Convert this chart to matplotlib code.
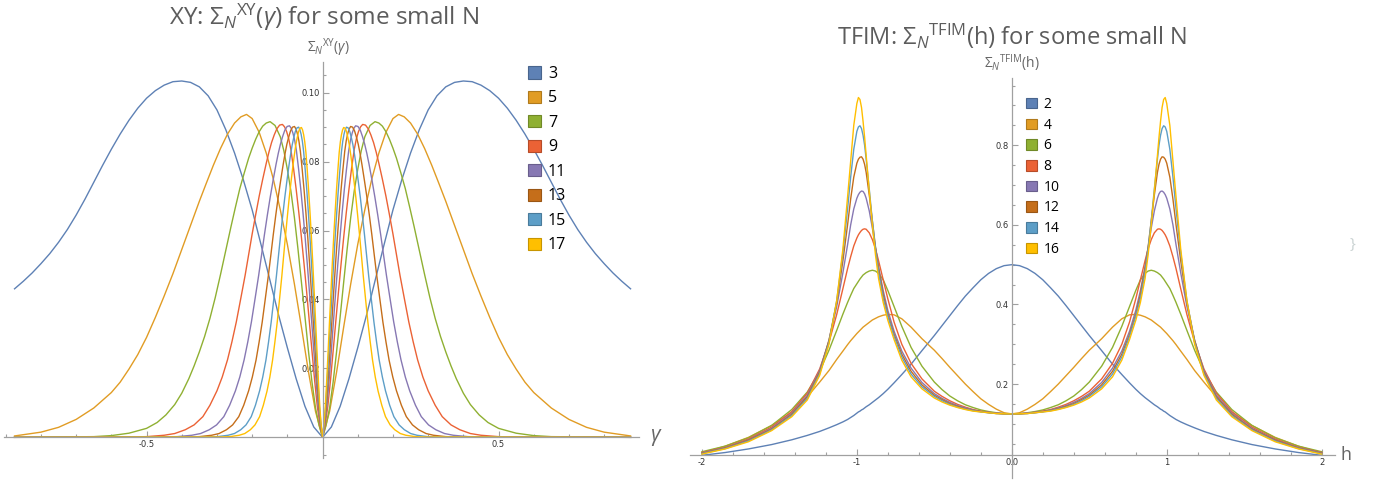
import numpy as np
import matplotlib
matplotlib.use('Agg')
import matplotlib.pyplot as plt
from matplotlib.patches import Patch
from matplotlib.ticker import MultipleLocator
from matplotlib.colors import to_rgb

plt.rcParams['font.family'] = ['Open Sans', 'DejaVu Sans']
plt.rcParams['mathtext.fontset'] = 'custom'
plt.rcParams['mathtext.rm'] = 'Open Sans'
plt.rcParams['mathtext.it'] = 'Open Sans:italic'
plt.rcParams['axes.unicode_minus'] = False

# Mathematica default palette (ColorData 97)
COLORS = ['#5e81b5', '#e19c24', '#8fb032', '#eb6235', '#8778b3', '#c56e1a', '#5d9ec7', '#ffbf00']

# ---------- XY panel: values for gamma >= 0 (curves are symmetric) ----------
XY_N = [3, 5, 7, 9, 11, 13, 15, 17]

XY_G3 = [0, 0.025, 0.05, 0.075, 0.1, 0.125, 0.15, 0.175, 0.2, 0.225, 0.25, 0.275, 0.3, 0.325, 0.35, 0.375,
         0.4, 0.425, 0.45, 0.475, 0.5, 0.525, 0.55, 0.575, 0.6, 0.625, 0.65, 0.675, 0.7, 0.725, 0.75,
         0.775, 0.8, 0.825, 0.85, 0.875]
XY_S3 = [0, 0.003, 0.009, 0.017, 0.026, 0.0355, 0.0458, 0.056, 0.066, 0.0747, 0.0825, 0.0893, 0.095,
         0.0991, 0.1017, 0.103, 0.1034, 0.1032, 0.1022, 0.1006, 0.0984, 0.0955, 0.092, 0.088, 0.0836,
         0.0789, 0.074, 0.0691, 0.0645, 0.0603, 0.0566, 0.0533, 0.0504, 0.0477, 0.0453, 0.0431]

XY_G5 = [0, 0.02, 0.04, 0.06, 0.08, 0.1, 0.12, 0.14, 0.16, 0.18, 0.2, 0.216, 0.232, 0.25, 0.27, 0.29,
         0.31, 0.33, 0.35, 0.375, 0.4, 0.425, 0.45, 0.475, 0.5, 0.525, 0.55, 0.575, 0.6, 0.65, 0.7, 0.75,
         0.8, 0.875]
XY_S5 = [0, 0.0075, 0.019, 0.032, 0.0445, 0.056, 0.066, 0.075, 0.0825, 0.0885, 0.0925, 0.0937, 0.093,
         0.0912, 0.088, 0.0838, 0.079, 0.0738, 0.0685, 0.0615, 0.0545, 0.0475, 0.041, 0.0348, 0.029,
         0.024, 0.0198, 0.016, 0.013, 0.0085, 0.0052, 0.0029, 0.0015, 0.0004]

XY_G7 = [0, 0.01, 0.02, 0.03, 0.04, 0.05, 0.06, 0.07, 0.08, 0.09, 0.1, 0.11, 0.12, 0.135, 0.149, 0.16,
         0.17, 0.18, 0.19, 0.2, 0.21, 0.2225, 0.235, 0.2475, 0.26, 0.275, 0.29, 0.305, 0.32, 0.335, 0.35,
         0.365, 0.38, 0.4, 0.42, 0.445, 0.47, 0.5, 0.55, 0.6, 0.65, 0.875]
XY_S7 = [0, 0.0035, 0.0085, 0.016, 0.025, 0.035, 0.045, 0.0548, 0.0638, 0.0715, 0.0778, 0.0832, 0.0872,
         0.0905, 0.0916, 0.0912, 0.0903, 0.0887, 0.0865, 0.0839, 0.081, 0.0767, 0.0722, 0.0668, 0.0612,
         0.0542, 0.0472, 0.0405, 0.0345, 0.0293, 0.0248, 0.0207, 0.017, 0.0128, 0.0095, 0.0065, 0.0043,
         0.0026, 0.0012, 0.0005, 0.0002, 0]

XY_G9 = [0, 0.0075, 0.015, 0.0225, 0.03, 0.0375, 0.045, 0.0525, 0.06, 0.0675, 0.075, 0.0825, 0.09,
         0.096, 0.102, 0.108, 0.114, 0.122, 0.13, 0.1375, 0.145, 0.1525, 0.16, 0.17, 0.18, 0.19, 0.2,
         0.21, 0.22, 0.2325, 0.245, 0.2575, 0.27, 0.285, 0.3, 0.32, 0.34, 0.365, 0.39, 0.42, 0.45, 0.5,
         0.55, 0.875]
XY_S9 = [0, 0.0038, 0.009, 0.0165, 0.025, 0.0335, 0.042, 0.0502, 0.058, 0.0653, 0.072, 0.0781, 0.0835,
         0.0866, 0.0887, 0.0901, 0.0908, 0.0906, 0.0895, 0.0877, 0.0855, 0.0827, 0.0795, 0.0749, 0.07,
         0.0646, 0.059, 0.053, 0.047, 0.0402, 0.0335, 0.0277, 0.0225, 0.0175, 0.0135, 0.0093, 0.006,
         0.0036, 0.0022, 0.0011, 0.0006, 0.0002, 0.0001, 0]

XY_G11 = [0, 0.0062, 0.0124, 0.0186, 0.0248, 0.0309, 0.0371, 0.0433, 0.0495, 0.0557, 0.0619, 0.0681,
          0.0743, 0.0792, 0.0842, 0.0891, 0.094, 0.1007, 0.1073, 0.1134, 0.1196, 0.1258, 0.132, 0.1403,
          0.1485, 0.1568, 0.165, 0.1733, 0.1815, 0.1918, 0.2021, 0.2124, 0.2228, 0.2351, 0.2475, 0.264,
          0.2805, 0.3011, 0.3218, 0.3465, 0.3713, 0.4125, 0.4538, 0.875]
XY_S11 = [0, 0.0038, 0.009, 0.0165, 0.025, 0.0335, 0.042, 0.0502, 0.058, 0.0653, 0.072, 0.0779, 0.0832,
          0.0862, 0.0883, 0.0897, 0.0904, 0.0902, 0.0891, 0.0873, 0.0851, 0.0824, 0.0793, 0.0747, 0.0698,
          0.0645, 0.0589, 0.0529, 0.047, 0.0402, 0.0335, 0.0277, 0.0225, 0.0175, 0.0135, 0.0093, 0.006,
          0.0036, 0.0022, 0.0011, 0.0006, 0.0002, 0.0001, 0]

XY_G13 = [0, 0.0053, 0.0105, 0.0158, 0.021, 0.0263, 0.0315, 0.0368, 0.042, 0.0473, 0.0525, 0.0578,
          0.063, 0.0672, 0.0714, 0.0756, 0.0798, 0.0854, 0.091, 0.0963, 0.1015, 0.1068, 0.112, 0.119,
          0.126, 0.133, 0.14, 0.147, 0.154, 0.1628, 0.1715, 0.1803, 0.189, 0.1995, 0.21, 0.224, 0.238,
          0.2555, 0.273, 0.294, 0.315, 0.35, 0.385, 0.875]
XY_S13 = [0, 0.0038, 0.009, 0.0165, 0.025, 0.0335, 0.042, 0.0502, 0.058, 0.0652, 0.0718, 0.0777, 0.083,
          0.086, 0.0881, 0.0895, 0.0902, 0.09, 0.0889, 0.0871, 0.085, 0.0822, 0.0791, 0.0745, 0.0697,
          0.0644, 0.0588, 0.0528, 0.0469, 0.0401, 0.0334, 0.0276, 0.0224, 0.0175, 0.0135, 0.0093, 0.006,
          0.0036, 0.0022, 0.0011, 0.0006, 0.0002, 0.0001, 0]

XY_G15 = [0, 0.0045, 0.0089, 0.0134, 0.0179, 0.0224, 0.0268, 0.0313, 0.0358, 0.0402, 0.0447, 0.0492,
          0.0536, 0.0572, 0.0608, 0.0644, 0.0679, 0.0727, 0.0775, 0.082, 0.0864, 0.0909, 0.0954, 0.1013,
          0.1073, 0.1132, 0.1192, 0.1252, 0.1311, 0.1386, 0.146, 0.1535, 0.1609, 0.1699, 0.1788, 0.1907,
          0.2026, 0.2175, 0.2324, 0.2503, 0.2682, 0.298, 0.3278, 0.875]
XY_S15 = [0, 0.0038, 0.009, 0.0165, 0.025, 0.0335, 0.042, 0.0502, 0.058, 0.0651, 0.0717, 0.0775, 0.0828,
          0.0858, 0.0879, 0.0893, 0.09, 0.0898, 0.0887, 0.0869, 0.0848, 0.082, 0.0789, 0.0744, 0.0696,
          0.0643, 0.0587, 0.0527, 0.0468, 0.04, 0.0334, 0.0276, 0.0224, 0.0175, 0.0135, 0.0093, 0.006,
          0.0036, 0.0022, 0.0011, 0.0006, 0.0002, 0.0001, 0]

XY_G17 = [0, 0.004, 0.0079, 0.0118, 0.0158, 0.0197, 0.0237, 0.0276, 0.0316, 0.0355, 0.0395, 0.0434,
          0.0473, 0.0505, 0.0537, 0.0568, 0.06, 0.0642, 0.0684, 0.0723, 0.0763, 0.0802, 0.0842, 0.0894,
          0.0947, 0.0999, 0.1052, 0.1105, 0.1157, 0.1223, 0.1289, 0.1355, 0.142, 0.1499, 0.1578, 0.1683,
          0.1788, 0.192, 0.2051, 0.2209, 0.2367, 0.263, 0.2893, 0.875]
XY_S17 = [0, 0.0038, 0.009, 0.0165, 0.025, 0.0335, 0.042, 0.0502, 0.058, 0.065, 0.0716, 0.0774, 0.0827,
          0.0857, 0.0878, 0.0892, 0.0899, 0.0897, 0.0886, 0.0868, 0.0847, 0.0819, 0.0788, 0.0743, 0.0695,
          0.0642, 0.0586, 0.0527, 0.0468, 0.04, 0.0333, 0.0276, 0.0224, 0.0174, 0.0134, 0.0093, 0.006,
          0.0036, 0.0022, 0.0011, 0.0006, 0.0002, 0.0001, 0]

XY_X = [XY_G3, XY_G5, XY_G7, XY_G9, XY_G11, XY_G13, XY_G15, XY_G17]
XY_Y = [XY_S3, XY_S5, XY_S7, XY_S9, XY_S11, XY_S13, XY_S15, XY_S17]

XY_XTICKS = [-0.5, 0.5]
XY_XTICKLABELS = ['-0.5', '0.5']
XY_YTICKS = [0.02, 0.04, 0.06, 0.08, 0.10]
XY_YTICKLABELS = ['0.02', '0.04', '0.06', '0.08', '0.10']

# ---------- TFIM panel: values for h <= 0 (curves are symmetric) ----------
TF_N = [2, 4, 6, 8, 10, 12, 14, 16]

TF_H = [-2.0, -1.85, -1.7, -1.55, -1.42, -1.32, -1.24, -1.18, -1.13, -1.09, -1.06, -1.04, -1.02, -1.0,
        -0.99, -0.98, -0.97, -0.96, -0.95, -0.94, -0.92, -0.9, -0.88, -0.86, -0.83, -0.8, -0.76, -0.71,
        -0.65, -0.58, -0.5, -0.45, -0.4, -0.35, -0.3, -0.25, -0.2, -0.15, -0.1, -0.05, 0.0]

TF_S2 = [0.021, 0.028, 0.037, 0.048, 0.06, 0.071, 0.081, 0.09, 0.098, 0.105, 0.111, 0.116, 0.121, 0.127,
         0.13, 0.132, 0.135, 0.137, 0.14, 0.143, 0.148, 0.154, 0.16, 0.166, 0.176, 0.187, 0.203, 0.224,
         0.25, 0.284, 0.322, 0.347, 0.372, 0.397, 0.421, 0.442, 0.462, 0.478, 0.49, 0.4975, 0.5]
TF_S4 = [0.027, 0.044, 0.066, 0.096, 0.129, 0.168, 0.205, 0.234, 0.262, 0.283, 0.299, 0.309, 0.318, 0.327,
         0.331, 0.335, 0.339, 0.343, 0.346, 0.349, 0.355, 0.361, 0.365, 0.369, 0.373, 0.375, 0.374, 0.364,
         0.343, 0.314, 0.285, 0.264, 0.242, 0.221, 0.2, 0.181, 0.163, 0.149, 0.137, 0.128, 0.125]
TF_S6 = [0.03, 0.044, 0.065, 0.096, 0.136, 0.18, 0.232, 0.285, 0.335, 0.376, 0.405, 0.423, 0.44, 0.452,
         0.458, 0.464, 0.469, 0.474, 0.477, 0.48, 0.484, 0.486, 0.484, 0.478, 0.462, 0.435, 0.395, 0.345,
         0.292, 0.245, 0.205, 0.186, 0.17, 0.158, 0.148, 0.141, 0.135, 0.131, 0.128, 0.1257, 0.125]
TF_S8 = [0.028, 0.041, 0.062, 0.092, 0.131, 0.177, 0.238, 0.305, 0.375, 0.44, 0.49, 0.52, 0.547, 0.567,
         0.575, 0.581, 0.586, 0.589, 0.59, 0.589, 0.58, 0.563, 0.54, 0.51, 0.462, 0.414, 0.356, 0.3,
         0.252, 0.213, 0.182, 0.169, 0.158, 0.149, 0.142, 0.136, 0.132, 0.129, 0.127, 0.1255, 0.125]
TF_S10 = [0.027, 0.04, 0.06, 0.089, 0.127, 0.172, 0.234, 0.31, 0.395, 0.48, 0.55, 0.6, 0.64, 0.667,
          0.676, 0.682, 0.685, 0.684, 0.678, 0.667, 0.635, 0.592, 0.543, 0.495, 0.435, 0.385, 0.333, 0.283,
          0.24, 0.204, 0.176, 0.164, 0.154, 0.146, 0.14, 0.135, 0.131, 0.129, 0.127, 0.1255, 0.125]
TF_S12 = [0.026, 0.039, 0.059, 0.087, 0.124, 0.168, 0.23, 0.31, 0.405, 0.51, 0.6, 0.665, 0.72, 0.755,
          0.765, 0.77, 0.771, 0.765, 0.752, 0.732, 0.675, 0.61, 0.545, 0.49, 0.425, 0.375, 0.325, 0.275,
          0.232, 0.198, 0.172, 0.161, 0.151, 0.144, 0.138, 0.134, 0.131, 0.128, 0.126, 0.1253, 0.125]
TF_S14 = [0.025, 0.038, 0.057, 0.085, 0.121, 0.164, 0.226, 0.305, 0.41, 0.53, 0.64, 0.72, 0.79, 0.835,
          0.846, 0.849, 0.842, 0.825, 0.8, 0.765, 0.69, 0.61, 0.54, 0.48, 0.415, 0.37, 0.32, 0.268,
          0.225, 0.193, 0.169, 0.158, 0.149, 0.142, 0.137, 0.133, 0.13, 0.128, 0.126, 0.1253, 0.125]
TF_S16 = [0.024, 0.037, 0.055, 0.083, 0.118, 0.16, 0.222, 0.3, 0.41, 0.54, 0.67, 0.76, 0.85, 0.905,
          0.92, 0.915, 0.895, 0.86, 0.82, 0.775, 0.685, 0.6, 0.525, 0.465, 0.405, 0.36, 0.312, 0.26,
          0.218, 0.188, 0.165, 0.155, 0.147, 0.141, 0.136, 0.132, 0.13, 0.128, 0.126, 0.1253, 0.125]

TF_Y = [TF_S2, TF_S4, TF_S6, TF_S8, TF_S10, TF_S12, TF_S14, TF_S16]

TF_XTICKS = [-2, -1, 0, 1, 2]
TF_XTICKLABELS = ['-2', '-1', '0.0', '1', '2']
TF_YTICKS = [0.2, 0.4, 0.6, 0.8]
TF_YTICKLABELS = ['0.2', '0.4', '0.6', '0.8']

W, H = 1379, 480
fig = plt.figure(figsize=(W / 100, H / 100), dpi=100)


def px_axes(x0, x1, ytop, ybot):
    return fig.add_axes([x0 / W, 1 - ybot / H, (x1 - x0) / W, (ybot - ytop) / H])


def style_axes(ax, x_cross_y, xmajor, xlabels, xminor, ymajor, ylabels, yminor):
    ax.set_facecolor('none')
    for s in ['top', 'right']:
        ax.spines[s].set_visible(False)
    ax.spines['left'].set_position(('data', 0))
    ax.spines['bottom'].set_position(('data', x_cross_y))
    for s in ['left', 'bottom']:
        ax.spines[s].set_color('#a0a0a0')
        ax.spines[s].set_linewidth(0.9)
    ax.set_xticks(xmajor, xlabels)
    ax.set_yticks(ymajor, ylabels)
    ax.xaxis.set_minor_locator(MultipleLocator(xminor))
    ax.yaxis.set_minor_locator(MultipleLocator(yminor))
    ax.tick_params(which='both', direction='in', color='#a0a0a0', labelcolor='#333333',
                   labelsize=6, width=0.8, pad=2)
    ax.tick_params(which='major', length=4)
    ax.tick_params(which='minor', length=2.5)
    for lab in ax.get_xticklabels() + ax.get_yticklabels():
        lab.set_family('DejaVu Sans')


# ---------------- left panel (mirror stored half about gamma = 0) ----------------
ax1 = px_axes(4, 639, 61.7, 458)
for gx, sy, c in zip(XY_X, XY_Y, COLORS):
    gx = np.array(gx)
    sy = np.array(sy)
    x = np.concatenate([-gx[::-1], gx[1:]])
    y = np.concatenate([sy[::-1], sy[1:]])
    ax1.plot(x, y, color=c, lw=1.0)
ax1.set_xlim(-0.905, 0.899)
ax1.set_ylim(-0.006, 0.109)
style_axes(ax1, 0, XY_XTICKS, XY_XTICKLABELS, 0.1, XY_YTICKS, XY_YTICKLABELS, 0.005)

# ---------------- right panel (mirror stored half about h = 0) ----------------
ax2 = px_axes(690, 1335, 78, 478)
hh = np.array(TF_H)
for sy, c in zip(TF_Y, COLORS):
    sy = np.array(sy)
    x = np.concatenate([hh, -hh[-2::-1]])
    y = np.concatenate([sy, sy[-2::-1]])
    ax2.plot(x, y, color=c, lw=1.0)
ax2.set_xlim(-2.077, 2.086)
ax2.set_ylim(-0.036, 0.969)
style_axes(ax2, 0.021, TF_XTICKS, TF_XTICKLABELS, 0.2, TF_YTICKS, TF_YTICKLABELS, 0.05)

# ---------------- texts ----------------
title_col = '#5c5c5c'
fig.text(324 / W, 1 - 25 / H, r'XY: ${\Sigma_N}^{\mathrm{XY}}(\gamma)$ for some small N',
         ha='center', va='baseline', fontsize=17.5, color=title_col)
fig.text(1012 / W, 1 - 45 / H, r'TFIM: ${\Sigma_N}^{\mathrm{TFIM}}(\mathrm{h})$ for some small N',
         ha='center', va='baseline', fontsize=17, color=title_col)
fig.text(328 / W, 1 - 52 / H, r'${\Sigma_N}^{\mathrm{XY}}(\gamma)$',
         ha='center', va='baseline', fontsize=10, color='#666666')
fig.text(1012 / W, 1 - 68 / H, r'${\Sigma_N}^{\mathrm{TFIM}}(\mathrm{h})$',
         ha='center', va='baseline', fontsize=10, color='#666666')
fig.text(650 / W, 1 - 438 / H, r'$\gamma$', ha='left', va='center', fontsize=15, color='#666666')
fig.text(1341 / W, 1 - 455 / H, 'h', ha='left', va='center', fontsize=13, color='#666666')
fig.text(1352 / W, 1 - 245 / H, '}', ha='center', va='center', fontsize=11, color='#c9d2d2')


def legend(ax, labels, x, ytop, fs, spacing):
    handles = [Patch(facecolor=c, edgecolor=tuple(v * 0.78 for v in to_rgb(c)), linewidth=0.8)
               for c in COLORS]
    ax.legend(handles, [str(n) for n in labels], loc='upper left',
              bbox_to_anchor=(x / W, 1 - ytop / H), bbox_transform=fig.transFigure,
              frameon=False, fontsize=fs, handlelength=0.8, handleheight=0.8,
              handletextpad=0.45, labelspacing=spacing, borderpad=0, borderaxespad=0)


legend(ax1, XY_N, 528, 66, 11.5, 0.53)
legend(ax2, TF_N, 1026, 97, 10, 0.41)

fig.savefig('out.png', dpi=100)
